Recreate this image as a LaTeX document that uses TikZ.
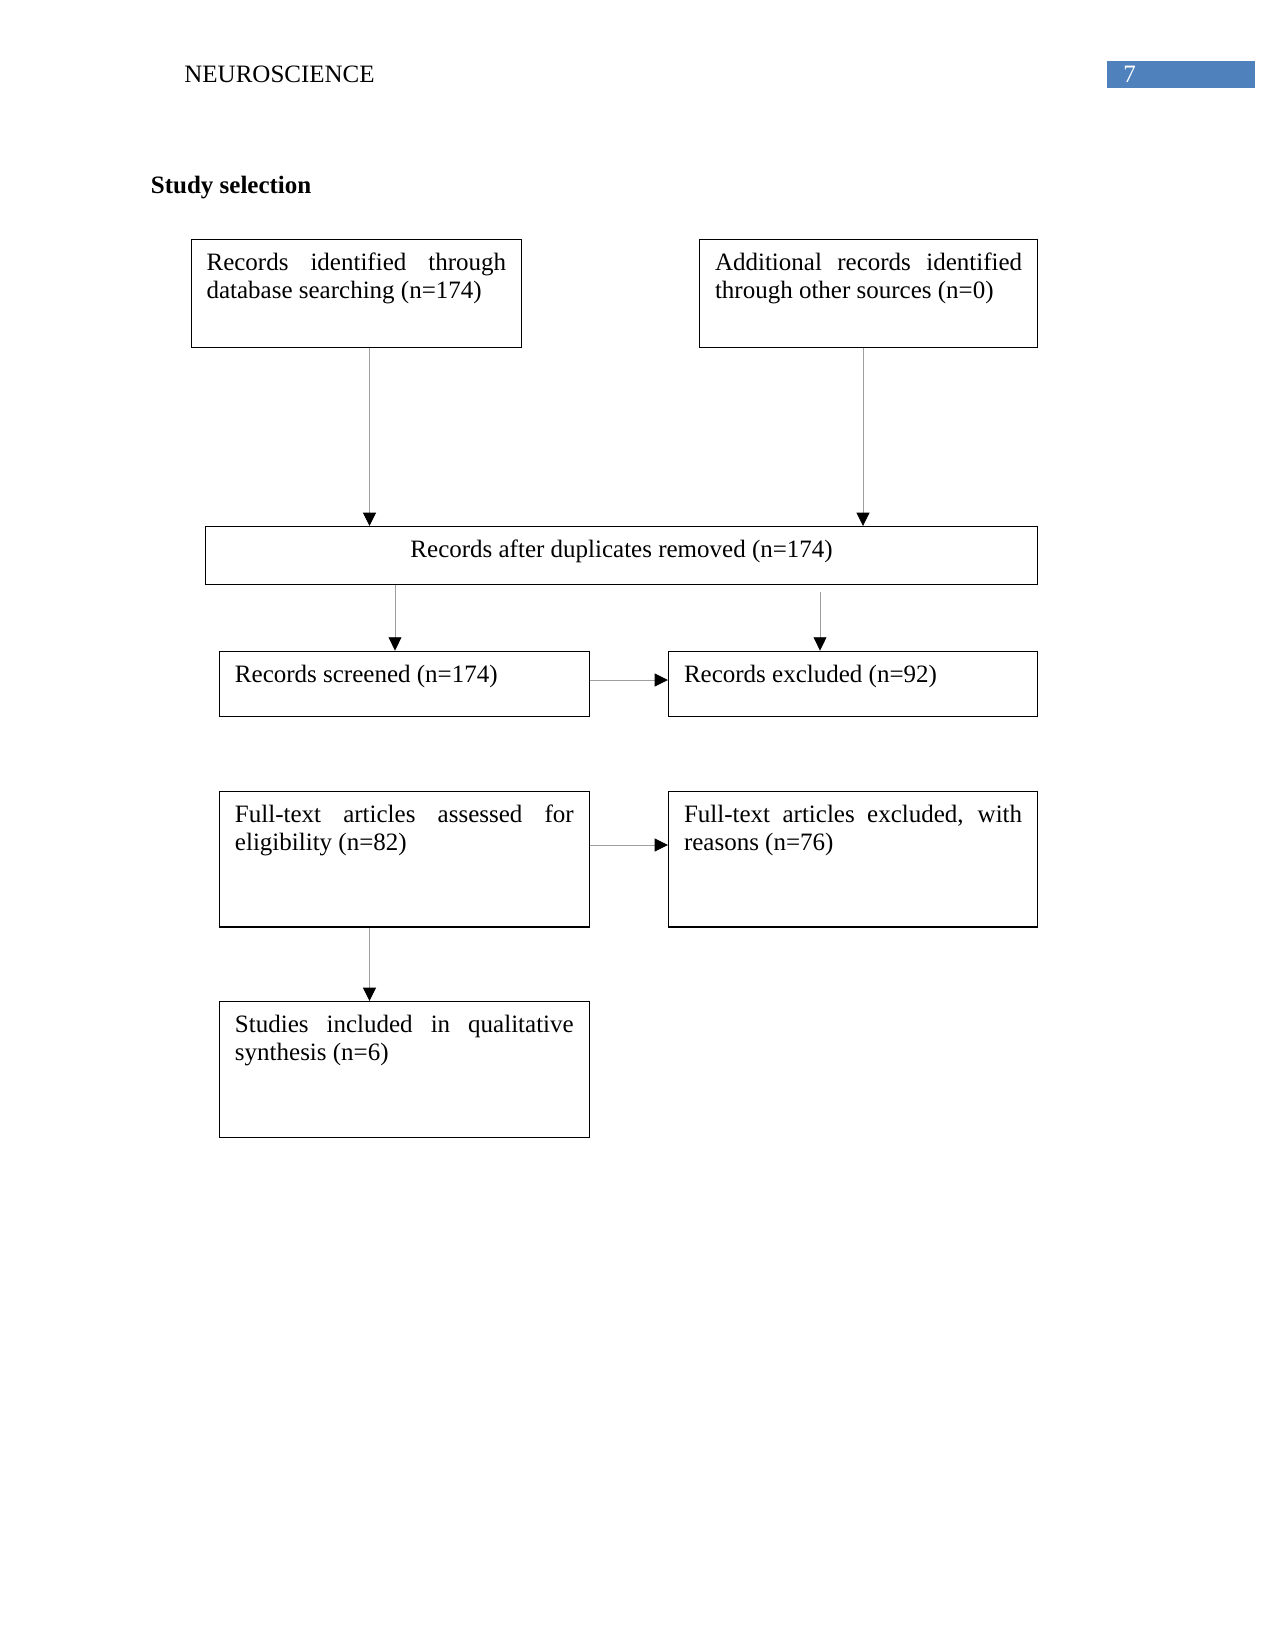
\documentclass[tikz,border=0pt]{standalone}
\usepackage{fontspec}
\setmainfont{Liberation Serif}
\usetikzlibrary{arrows.meta}
\definecolor{hdrblue}{RGB}{79,129,189}
\tikzset{
  flowbox/.style={draw=black, line width=0.55pt, inner xsep=7.4pt, inner ysep=0pt, anchor=north west, font=\fontsize{12}{13.5}\selectfont},
  conn/.style={draw=gray!75, line width=0.45pt, -{Triangle[width=6.2pt,length=6.4pt,color=black]}},
  plain/.style={inner sep=0pt, anchor=base west, font=\fontsize{12}{13.8}\selectfont}
}
\newcommand{\bx}[3]{\parbox[c][#2][t]{#1}{\hbadness=10000\rule{0pt}{14.8pt}#3}}
\begin{document}
\begin{tikzpicture}[x=0.48pt, y=-0.48pt]
\useasboundingbox (0,0) rectangle (1275,1651);
% header
\node[plain] (hdr) at (184,83) {NEUROSCIENCE};
\node[fill=hdrblue, minimum width=71pt, minimum height=13pt, inner sep=0pt, anchor=north west] (pg) at (1107,61) {};
\node[plain, text=white] (pgnum) at (1123,83) {7};
\node[plain, font=\fontsize{12}{13.8}\selectfont\bfseries] (title) at (150.5,194) {Study selection};
% boxes
\node[flowbox] (b1) at (190.6,239) {\bx{143.8pt}{52pt}{Records identified through\linebreak database searching (n=174)}};
\node[flowbox] (b2) at (699,239) {\bx{147.4pt}{52pt}{Additional records identified\linebreak through other sources (n=0)}};
\node[flowbox] (b3) at (205,526) {\bx{384.6pt}{27.8pt}{\centering Records after duplicates removed (n=174)}};
\node[flowbox] (b4) at (219,650.6) {\bx{162.6pt}{31.4pt}{Records screened (n=174)}};
\node[flowbox] (b5) at (668,650.6) {\bx{162.3pt}{31.4pt}{Records excluded (n=92)}};
\node[flowbox] (b6) at (219,790.6) {\bx{162.6pt}{65.2pt}{Full-text articles assessed for\linebreak eligibility (n=82)}};
\node[flowbox] (b7) at (668,790.6) {\bx{162.3pt}{65.2pt}{Full-text articles excluded, with\linebreak reasons (n=76)}};
\node[flowbox] (b8) at (219,1001) {\bx{162.6pt}{65.3pt}{Studies included in qualitative\linebreak synthesis (n=6)}};
% connector positions
\coordinate (x1) at (369.5,0);
\coordinate (x2) at (863,0);
\coordinate (x3) at (395,0);
\coordinate (x4) at (820,0);
\coordinate (y4) at (0,591.7);
\coordinate (y5) at (0,680);
\coordinate (y6) at (0,845);
% connectors
\draw[conn] (x1 |- b1.south) -- (x1 |- b3.north);
\draw[conn] (x2 |- b2.south) -- (x2 |- b3.north);
\draw[conn] (x3 |- b3.south) -- (x3 |- b4.north);
\draw[conn] (x4 |- y4) -- (x4 |- b5.north);
\draw[conn] (b4.east |- y5) -- (b5.west |- y5);
\draw[conn] (b6.east |- y6) -- (b7.west |- y6);
\draw[conn] (x1 |- b6.south) -- (x1 |- b8.north);
\end{tikzpicture}
\end{document}
